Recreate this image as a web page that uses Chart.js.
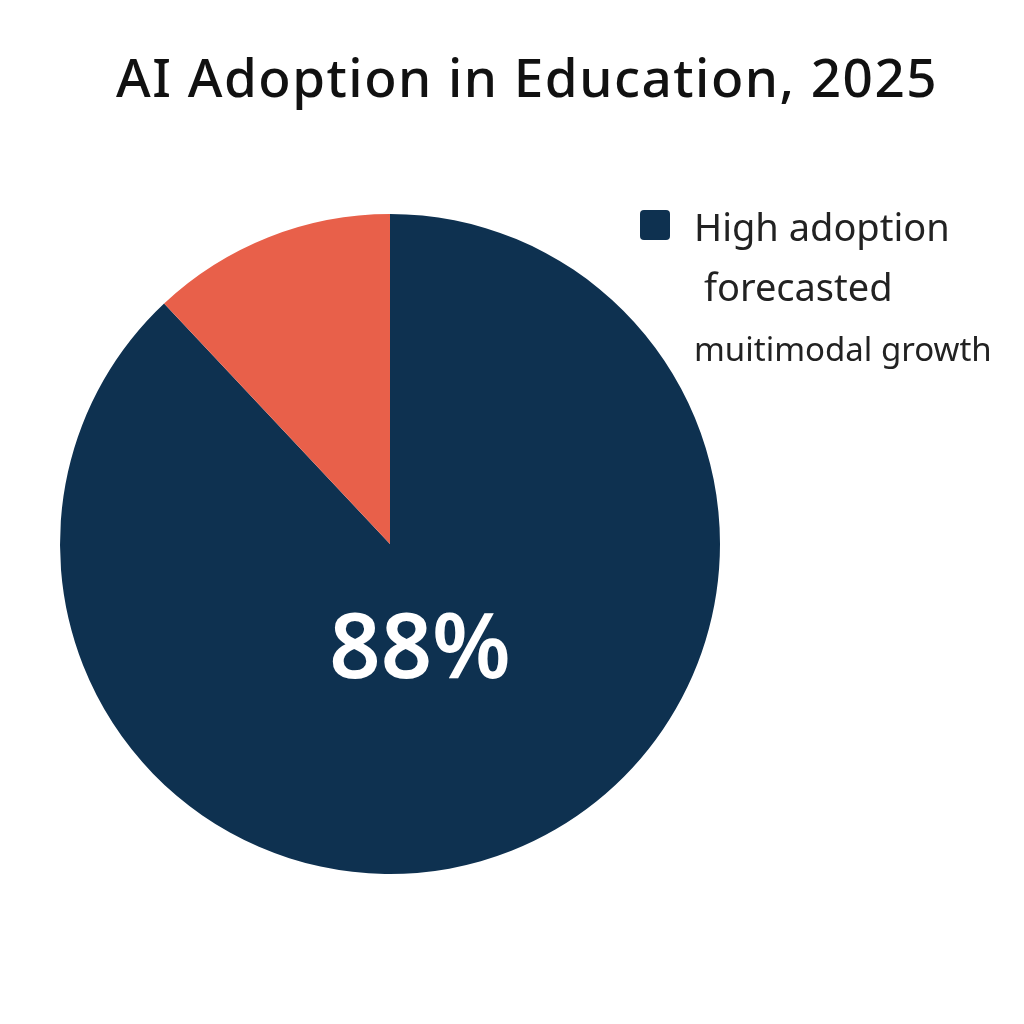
<!DOCTYPE html>
<html lang="en">
<head>
<meta charset="UTF-8">
<title>AI Adoption in Education, 2025</title>
<style>
    body { margin: 0; background: #fff; font-family: "Noto Sans", Arial, sans-serif; }
    .wrap { position: relative; width: 1024px; height: 1024px; }
    canvas { position: absolute; left: 0; top: 0; }
    h1 { position: absolute; top: 40px; left: 0; width: 1054px; margin: 0; text-align: center;
         font-size: 53px; font-weight: 500; color: #111; letter-spacing: 1.5px; }
    .legend { position: absolute; left: 640px; top: 196px; font-size: 38px; color: #222; line-height: 60px; }
    .legend .box { position: absolute; left: 0; top: 14px; width: 30px; height: 30px; background: #0e3150; border-radius: 4px; }
    .legend .txt { margin-left: 54px; }
</style>
</head>
<body>
<div class="wrap">
    <canvas id="pie" width="1024" height="1024"></canvas>
    <h1>AI Adoption in Education, 2025</h1>
    <div class="legend"><div class="box"></div>
        <div class="txt">High adoption<br>&nbsp;forecasted<br><span style="font-size:33px">muitimodal growth</span></div>
    </div>
</div>
<script src="https://cdn.jsdelivr.net/npm/chart.js"></script>
<script>
    const labels = ['High adoption', 'Other'];
    const values = [88, 12];
    const colors = ['#0e3150', '#e8604a'];

    // 가운데 퍼센트 텍스트
    const centerText = {
        id: 'centerText',
        afterDraw(chart) {
            const arc = chart.getDatasetMeta(0).data[0];
            const c = chart.ctx;
            c.save();
            c.fillStyle = '#fff';
            c.font = '600 90px "Noto Sans", Arial, sans-serif';
            c.textAlign = 'center';
            c.textBaseline = 'middle';
            c.fillText(values[0] + '%', arc.x + 30, arc.y + 108);
            c.restore();
        }
    };

    new Chart(document.getElementById('pie'), {
        type: 'pie',
        data: { labels: labels, datasets: [{ data: values, backgroundColor: colors, borderWidth: 0 }] },
        options: {
            responsive: false,
            animation: false,
            layout: { padding: { left: 60, right: 304, top: 213, bottom: 149 } },
            plugins: { legend: { display: false }, tooltip: { enabled: false } }
        },
        plugins: [centerText]
    });
</script>
</body>
</html>
